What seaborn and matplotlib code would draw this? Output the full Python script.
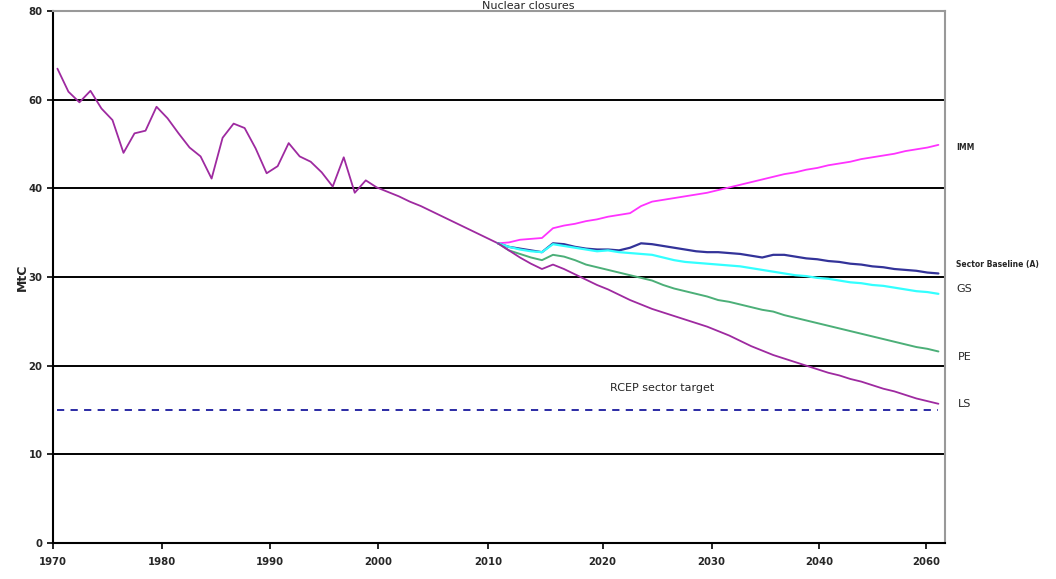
import numpy as np
import pandas as pd
import matplotlib
matplotlib.use("Agg")
import matplotlib.pyplot as plt
import seaborn as sns

# Historical emissions 1970-2010 (MtC)
hist_years = list(range(1970, 2011))
hist_values = [53.5, 50.9, 49.7, 51.0, 49.0, 47.7, 44.0, 46.2, 46.5, 49.2,
               47.9, 46.2, 44.6, 43.6, 41.1, 45.7, 47.3, 46.8, 44.5, 41.7,
               42.5, 45.1, 43.6, 43.0, 41.8, 40.2, 43.5, 39.5, 40.9, 40.1,
               39.6, 39.1, 38.5, 38.0, 37.4, 36.8, 36.2, 35.6, 35.0, 34.4, 33.8]

# Projections 2010-2050
proj_years = list(range(2010, 2051))
imm = [33.8, 33.9, 34.2, 34.3, 34.4, 35.5, 35.8, 36.0, 36.3, 36.5,
       36.8, 37.0, 37.2, 38.0, 38.5, 38.7, 38.9, 39.1, 39.3, 39.5,
       39.8, 40.1, 40.4, 40.7, 41.0, 41.3, 41.6, 41.8, 42.1, 42.3,
       42.6, 42.8, 43.0, 43.3, 43.5, 43.7, 43.9, 44.2, 44.4, 44.6, 44.9]
baseline = [33.8, 33.4, 33.2, 33.0, 32.8, 33.8, 33.7, 33.4, 33.2, 33.1,
            33.1, 33.0, 33.3, 33.8, 33.7, 33.5, 33.3, 33.1, 32.9, 32.8,
            32.8, 32.7, 32.6, 32.4, 32.2, 32.5, 32.5, 32.3, 32.1, 32.0,
            31.8, 31.7, 31.5, 31.4, 31.2, 31.1, 30.9, 30.8, 30.7, 30.5, 30.4]
gs = [33.8, 33.4, 33.1, 32.9, 32.8, 33.7, 33.5, 33.3, 33.1, 32.9,
      33.0, 32.8, 32.7, 32.6, 32.5, 32.2, 31.9, 31.7, 31.6, 31.5,
      31.4, 31.3, 31.2, 31.0, 30.8, 30.6, 30.4, 30.2, 30.1, 29.9,
      29.8, 29.6, 29.4, 29.3, 29.1, 29.0, 28.8, 28.6, 28.4, 28.3, 28.1]
pe = [33.8, 33.0, 32.6, 32.2, 31.9, 32.5, 32.3, 31.9, 31.4, 31.1,
      30.8, 30.5, 30.2, 29.9, 29.6, 29.1, 28.7, 28.4, 28.1, 27.8,
      27.4, 27.2, 26.9, 26.6, 26.3, 26.1, 25.7, 25.4, 25.1, 24.8,
      24.5, 24.2, 23.9, 23.6, 23.3, 23.0, 22.7, 22.4, 22.1, 21.9, 21.6]
ls = [33.8, 33.0, 32.2, 31.5, 30.9, 31.4, 30.9, 30.3, 29.7, 29.1,
      28.6, 28.0, 27.4, 26.9, 26.4, 26.0, 25.6, 25.2, 24.8, 24.4,
      23.9, 23.4, 22.8, 22.2, 21.7, 21.2, 20.8, 20.4, 20.0, 19.6,
      19.2, 18.9, 18.5, 18.2, 17.8, 17.4, 17.1, 16.7, 16.3, 16.0, 15.7]

# RCEP sector target
target_years = [1970, 2050]
target_values = [15, 15]

# Axis labels as printed on the chart
x_tick_labels = ["1970", "1980", "1990", "2000", "2010", "2020", "2030", "2040", "2060"]
y_tick_labels = ["0", "10", "20", "30", "40", "60", "80"]

sns.set_style("white")
plt.rcParams["font.family"] = ["DejaVu Sans"]

fig = plt.figure(figsize=(10.56, 5.79), dpi=100)
ax = fig.add_axes([0.0502, 0.0622, 0.8447, 0.9188])

purple = "#9e2aa0"
sns.lineplot(x=hist_years, y=hist_values, color=purple, lw=1.3, ax=ax)
sns.lineplot(x=proj_years, y=imm, color="#ff33ff", lw=1.3, ax=ax)
sns.lineplot(x=proj_years, y=baseline, color="#333399", lw=1.6, ax=ax)
sns.lineplot(x=proj_years, y=gs, color="#33ffff", lw=1.6, ax=ax)
sns.lineplot(x=proj_years, y=pe, color="#4caf78", lw=1.4, ax=ax)
sns.lineplot(x=proj_years, y=ls, color=purple, lw=1.3, ax=ax)
sns.lineplot(x=target_years, y=target_values, color="#1a1a9e", lw=1.3,
             ax=ax, linestyle=(0, (4, 3.5)))

ax.set_xlim(1969.6, 2050.6)
ax.set_ylim(0, 60)

for v in [10, 20, 30, 40, 50]:
    ax.axhline(v, color="black", lw=1.4, zorder=0)

ax.set_yticks([0, 10, 20, 30, 40, 50, 60])
ax.set_yticklabels(y_tick_labels)
ax.set_xticks([1969.6, 1979.5, 1989.3, 1999.1, 2009.1, 2019.5, 2029.4, 2039.2, 2048.9])
ax.set_xticklabels(x_tick_labels)
ax.tick_params(axis="both", which="both", direction="out", length=4, width=1.2,
               labelsize=7.3, color="black", bottom=True, left=True)
for lab in ax.get_xticklabels() + ax.get_yticklabels():
    lab.set_fontweight("bold")
ax.tick_params(axis="x", pad=6)

for s in ["left", "bottom"]:
    ax.spines[s].set_color("black")
    ax.spines[s].set_linewidth(1.5)
for s in ["top", "right"]:
    ax.spines[s].set_color("#999999")
    ax.spines[s].set_linewidth(1.5)

ax.set_xlabel("")
ax.set_ylabel("MtC", fontsize=9, fontweight="bold", labelpad=0)

# Series labels to the right of the plot
ax.text(2051.6, 44.6, "IMM", fontsize=5.5, fontweight="bold", va="center", clip_on=False)
ax.text(2051.6, 31.4, "Sector Baseline (A)", fontsize=5.5, fontweight="bold", va="center", clip_on=False)
ax.text(2051.6, 28.6, "GS", fontsize=8, va="center", clip_on=False)
ax.text(2051.8, 21.0, "PE", fontsize=8, va="center", clip_on=False)
ax.text(2051.8, 15.7, "LS", fontsize=8, va="center", clip_on=False)
ax.text(2024.9, 17.5, "RCEP sector target", fontsize=8, ha="center", va="center")

fig.text(0.5, 0.999, "Nuclear closures", fontsize=8, ha="center", va="top")

fig.savefig("out.png", dpi=100)
